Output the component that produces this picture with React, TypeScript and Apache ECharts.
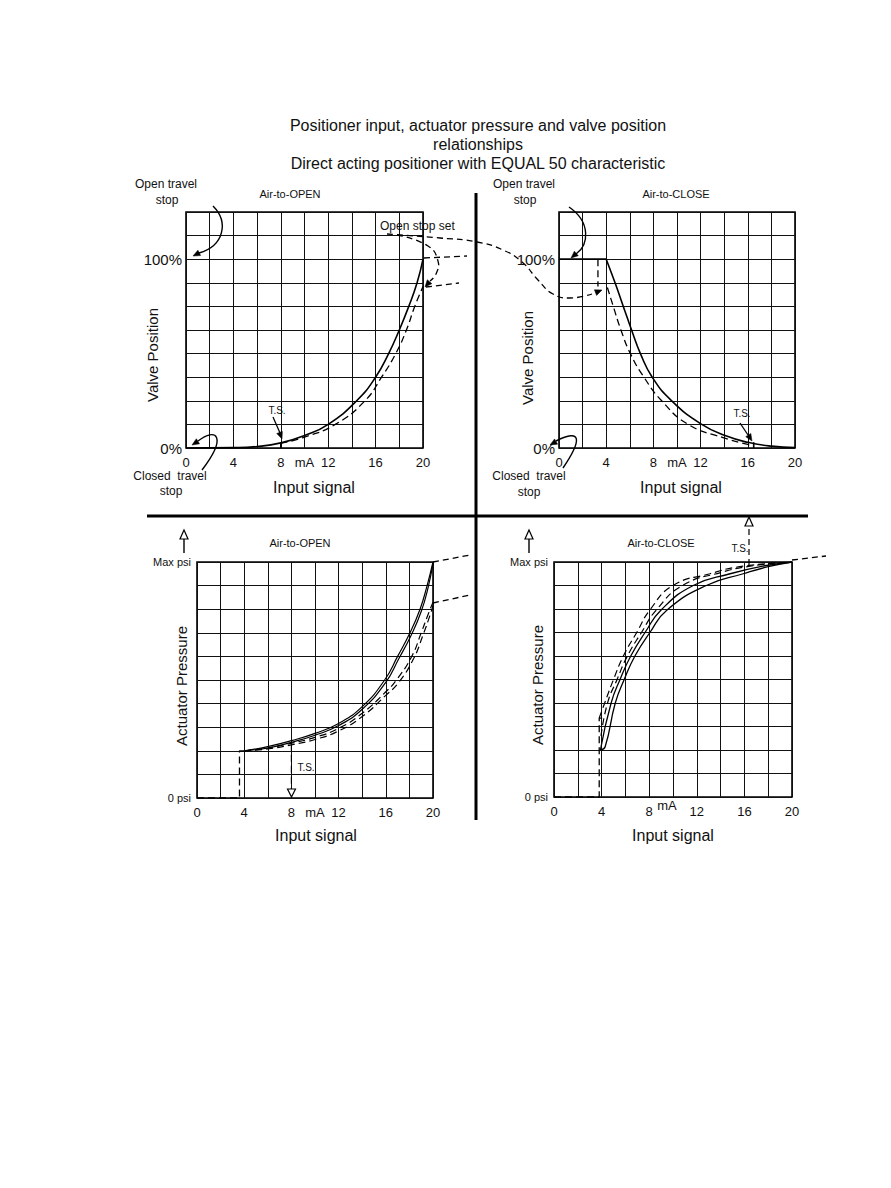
import React, { useEffect, useRef } from 'react';
import * as echarts from 'echarts';

const FONT = '"Liberation Sans", Arial, sans-serif';

// ---------- texts ----------
const titleLines = [
  'Positioner input, actuator pressure and valve position',
  'relationships',
  'Direct acting positioner with EQUAL 50 characteristic',
];
const panelTitles = ['Air-to-OPEN', 'Air-to-CLOSE', 'Air-to-OPEN', 'Air-to-CLOSE'];

// ---------- axes ----------
const mAValues = [0, 4, 8, 10, 12, 16, 20];
const mATexts = ['0', '4', '8', 'mA', '12', '16', '20'];
const positionLabelValues = [0, 100];
const positionLabelTexts = ['0%', '100%'];
const pressureLabelValues = [0, 100];
const pressureLabelTexts = ['0 psi', 'Max psi'];

// ---------- data: top-left, Air-to-OPEN, valve position (%) vs input (mA) ----------
const aoPosSolid = [[0, 0], [4, 0.2], [6, 0.8], [8, 2.7], [10, 6.6], [12, 12.5], [14.4, 25], [16, 37.5], [17.1, 50], [18, 62.5], [18.8, 75], [19.5, 87.5], [20, 100]];
const aoPosDashed = [[8, 2.4], [10, 5.8], [12.6, 12.5], [15.1, 25], [16.5, 37.5], [17.7, 50], [18.6, 62.5], [19.3, 75], [20, 85.5]];
const aoPosTravelStop = [[8, 0], [8, 2.6]];

// ---------- data: top-right, Air-to-CLOSE, valve position ----------
const acPosFlat = [[0, 100], [4, 100]];
const acPosSolid = [[4, 100], [4.75, 87.5], [5.45, 75], [6.15, 62.5], [6.9, 50], [7.9, 37.5], [9.55, 25], [12.1, 12.5], [14.2, 6.3], [16, 3], [18, 1], [20, 0.3]];
const acPosDashed = [[4.1, 85], [4.6, 75], [5.25, 62.5], [6.05, 50], [7.2, 37.5], [8.7, 25], [10.95, 12.5], [13.9, 5.5], [15.9, 2], [16.5, 1.2]];
const acPosOpenStop = [[3.3, 100], [3.3, 85.5]];
const acPosTravelStop = [[16.5, 0], [16.5, 3]];

// ---------- data: bottom-left, Air-to-OPEN, actuator pressure (% of max) ----------
const aoPressSolidA = [[4, 20], [6, 21.8], [8, 24.3], [10, 27.4], [12, 31.6], [14, 38.7], [15.9, 50], [17, 60], [18.05, 70], [18.9, 80], [19.5, 90], [20, 100]];
const aoPressSolidB = [[4, 20], [6, 21.2], [8, 23.6], [10, 26.6], [12, 30.7], [14, 37.6], [16, 49], [17.1, 59], [18.15, 69], [19, 79], [19.6, 89.5], [20, 99.5]];
const aoPressDashA = [[4, 20], [6, 21.2], [8, 23.2], [10, 25.7], [12, 29.5], [14, 35.9], [16, 45], [16.9, 50], [18.2, 60], [19, 70], [19.6, 78], [20, 83]];
const aoPressDashB = [[4, 20], [6, 20.8], [8, 22.5], [10, 24.8], [12, 28.4], [14, 34.5], [16, 43.5], [17.1, 49], [18.35, 59], [19.15, 69], [19.75, 77.5], [20, 81.5]];
const aoPressStep = [[0, 0], [3.6, 0], [3.6, 20], [4, 20]];
const aoPressTravelStop = [[8, 23], [8, 3.5]];

// ---------- data: bottom-right, Air-to-CLOSE, actuator pressure ----------
const acPressSolidL = [[3.9, 20], [4.8, 40], [5.55, 50], [6.45, 60], [7.65, 70], [9.0, 79.6], [11.7, 90], [14.8, 95], [17.6, 98.3], [20, 100]];
const acPressSolidR = [[3.9, 20], [4.3, 21.4], [5.15, 40], [5.9, 50], [6.8, 60], [8.06, 70], [9.5, 79.6], [12.8, 90], [15.9, 95], [18, 98], [20, 100]];
const acPressDashL = [[3.8, 33.6], [4.26, 40], [5.0, 50], [5.83, 60], [6.95, 70], [8.06, 79.6], [10, 90], [13.1, 95], [15.6, 98], [20, 100]];
const acPressDashR = [[3.95, 26], [4.5, 40], [5.3, 50], [6.17, 60], [7.35, 70], [8.6, 79.6], [10.8, 90], [14, 95.5], [16.6, 98.3], [20, 100]];
const acPressStep = [[0, 0], [3.8, 0], [3.8, 33.6], [4.05, 33.6]];

// ---------- layout ----------
const grids = [
  { left: 186, top: 212, width: 237, height: 236 },
  { left: 559, top: 212, width: 236, height: 236 },
  { left: 197, top: 562, width: 236, height: 236 },
  { left: 554, top: 562, width: 238, height: 235 },
];

const INK = '#111';

function mkX(i: number, hideMA: boolean) {
  return {
    type: 'value', gridIndex: i, min: 0, max: 20, interval: 2,
    axisLine: { show: false }, axisTick: { show: false },
    splitLine: { show: true, lineStyle: { color: INK, width: 1 } },
    axisLabel: {
      margin: 8, fontSize: 13, color: INK, fontFamily: FONT,
      formatter: (v: number) => {
        const k = mAValues.indexOf(v);
        if (k < 0) return '';
        if (hideMA && mATexts[k] === 'mA') return '';
        return mATexts[k];
      },
    },
  };
}

function mkY(i: number, pressure: boolean) {
  return {
    type: 'value', gridIndex: i, min: 0, max: pressure ? 100 : 125, interval: pressure ? 10 : 12.5,
    axisLine: { show: false }, axisTick: { show: false },
    splitLine: { show: true, lineStyle: { color: INK, width: 1 } },
    axisLabel: {
      margin: pressure ? 6 : 4, fontSize: pressure ? 11 : 15, color: INK, fontFamily: FONT,
      padding: pressure ? [0, 0, 0, 0] : [0, 0, 10, 0],
      formatter: (v: number) => {
        const vals = pressure ? pressureLabelValues : positionLabelValues;
        const txts = pressure ? pressureLabelTexts : positionLabelTexts;
        const k = vals.indexOf(v);
        return k < 0 ? '' : txts[k];
      },
    },
  };
}

function line(name: string, data: number[][], gi: number, dashed: boolean, smooth: boolean | number = 0.5, width?: number) {
  return {
    type: 'line', name, data, xAxisIndex: gi, yAxisIndex: gi,
    symbol: 'none', smooth,
    lineStyle: { color: '#000', width: width ?? (dashed ? 1.3 : 1.6), type: dashed ? [7, 4] : 'solid' },
    z: 5, silent: true,
  };
}

function head(tx: number, ty: number, fx: number, fy: number, len = 7, hw = 3, open = false) {
  const dx = tx - fx, dy = ty - fy, L = Math.hypot(dx, dy);
  const ux = dx / L, uy = dy / L;
  const bx = tx - ux * len, by = ty - uy * len;
  return {
    type: 'polygon', z: 20,
    shape: { points: [[tx, ty], [bx - uy * hw, by + ux * hw], [bx + uy * hw, by - ux * hw]] },
    style: open ? { fill: '#fff', stroke: '#000', lineWidth: 1.2 } : { fill: '#000', stroke: '#000', lineWidth: 0.5 },
  };
}

function txt(text: string, x: number, y: number, size: number, align = 'center', rotation = 0) {
  return {
    type: 'text', x, y, rotation, z: 20,
    style: { text, fill: INK, fontSize: size, fontFamily: FONT, align, verticalAlign: 'middle' },
  };
}

function seg(x1: number, y1: number, x2: number, y2: number, dashed = false, w = 1.3) {
  return {
    type: 'line', z: 20, shape: { x1, y1, x2, y2 },
    style: { stroke: '#000', lineWidth: w, lineDash: dashed ? [6, 4] : null },
  };
}

function curve(pts: number[][], dashed = true, w = 1.3) {
  return {
    type: 'polyline', z: 20, shape: { points: pts, smooth: 0.5 },
    style: { stroke: '#000', fill: null, lineWidth: w, lineDash: dashed ? [6, 4] : null },
  };
}

function bez(x1: number, y1: number, cpx1: number, cpy1: number, cpx2: number, cpy2: number, x2: number, y2: number) {
  return {
    type: 'bezierCurve', z: 20, shape: { x1, y1, cpx1, cpy1, cpx2, cpy2, x2, y2 },
    style: { stroke: '#000', fill: null, lineWidth: 1.4 },
  };
}

const graphics: any[] = [
  // title
  txt(titleLines[0], 478, 125, 16),
  txt(titleLines[1], 478, 144, 16),
  txt(titleLines[2], 478, 163, 16),
  // dividers
  seg(476, 193, 476, 820, false, 3),
  seg(147, 516, 808, 516, false, 3),
  // panel titles
  txt(panelTitles[0], 290, 194, 11),
  txt(panelTitles[1], 676, 194, 11),
  txt(panelTitles[2], 300, 543, 11),
  txt(panelTitles[3], 661, 543, 11),
  // axis titles
  txt('Valve Position', 152, 355, 15, 'center', Math.PI / 2),
  txt('Valve Position', 527, 358, 15, 'center', Math.PI / 2),
  txt('Actuator Pressure', 181, 686, 15, 'center', Math.PI / 2),
  txt('Actuator Pressure', 537, 685, 15, 'center', Math.PI / 2),
  txt('Input signal', 314, 487, 16),
  txt('Input signal', 681, 487, 16),
  txt('Input signal', 316, 835, 16),
  txt('Input signal', 673, 835, 16),
  txt('mA', 667, 805, 13),
  // travel stop notes
  txt('Open travel', 166, 184, 12), txt('stop', 167, 200, 12),
  txt('Closed  travel', 170, 476, 12), txt('stop', 171, 491, 12),
  txt('Open travel', 524, 184, 12), txt('stop', 525, 200, 12),
  txt('Closed  travel', 529, 476, 12), txt('stop', 529, 492, 12),
  txt('Open stop set', 380, 226, 12, 'left'),
  // curved arrows
  bez(213, 206, 229, 222, 224, 246, 199, 253), head(193, 256, 201, 252),
  bez(202, 470, 228, 436, 216, 427, 198, 441), head(192, 445, 200, 440),
  bez(569, 207, 591, 222, 589, 245, 576, 254), head(571, 258, 578, 252),
  bez(563, 468, 582, 440, 582, 428, 556, 441), head(550, 445, 557, 441),
  // open stop set dashed links
  curve([[387, 234], [440, 238], [477, 242], [503, 250], [522, 262], [538, 280], [553, 294], [570, 298], [592, 294]]),
  head(602, 290, 592, 294),
  curve([[397, 235], [428, 246], [438, 261], [436, 274], [430, 281]]),
  head(425, 287, 431, 280),
  seg(424, 258, 467, 256, true),
  seg(426, 287, 459, 283, true),
  seg(433, 562, 470, 555, true),
  seg(433, 603, 470, 595, true),
  seg(792, 560, 826, 556, true),
  // T.S. notes
  txt('T.S.', 277, 410, 10), seg(273, 417, 280, 433), head(282, 439, 279, 431),
  txt('T.S.', 742, 413, 10), seg(740, 423, 748, 435), head(752, 441, 747, 433),
  txt('T.S.', 306, 767, 10), head(291.5, 797, 291.5, 789, 8, 4, true),
  txt('T.S.', 740, 548, 10), seg(749, 565, 749, 526, true, 1.2), head(749, 517, 749, 526, 9, 4, true),
  // up arrows
  seg(184, 553, 184, 539, false, 1.4), head(184, 530, 184, 539, 9, 4, true),
  seg(529, 553, 529, 539, false, 1.4), head(529, 530, 529, 539, 9, 4, true),
];

const option: any = {
  animation: false,
  backgroundColor: '#fff',
  textStyle: { fontFamily: FONT },
  grid: grids.map((g) => ({ ...g, show: true, borderColor: '#000', borderWidth: 1.6, backgroundColor: 'transparent' })),
  xAxis: [mkX(0, false), mkX(1, false), mkX(2, false), mkX(3, true)],
  yAxis: [mkY(0, false), mkY(1, false), mkY(2, true), mkY(3, true)],
  series: [
    line('aoPosSolid', aoPosSolid, 0, false),
    line('aoPosDashed', aoPosDashed, 0, true),
    line('aoPosTravelStop', aoPosTravelStop, 0, false, false),
    line('acPosFlat', acPosFlat, 1, false, false, 1.8),
    line('acPosSolid', acPosSolid, 1, false),
    line('acPosDashed', acPosDashed, 1, true),
    line('acPosOpenStop', acPosOpenStop, 1, true, false),
    line('acPosTravelStop', acPosTravelStop, 1, false, false),
    line('aoPressSolidA', aoPressSolidA, 2, false, 0.5, 1.2),
    line('aoPressSolidB', aoPressSolidB, 2, false, 0.5, 1.2),
    line('aoPressDashA', aoPressDashA, 2, true, 0.5, 1.2),
    line('aoPressDashB', aoPressDashB, 2, true, 0.5, 1.2),
    line('aoPressStep', aoPressStep, 2, true, false),
    line('aoPressTravelStop', aoPressTravelStop, 2, true, false, 1.2),
    line('acPressSolidL', acPressSolidL, 3, false, 0.5, 1.3),
    line('acPressSolidR', acPressSolidR, 3, false, 0.5, 1.3),
    line('acPressDashL', acPressDashL, 3, true, 0.5, 1.2),
    line('acPressDashR', acPressDashR, 3, true, 0.5, 1.2),
    line('acPressStep', acPressStep, 3, true, false),
  ],
  graphic: graphics,
};

export default function App() {
  const ref = useRef<HTMLDivElement>(null);
  useEffect(() => {
    const chart = echarts.init(ref.current!, null, { renderer: 'svg' });
    chart.setOption(option);
    return () => chart.dispose();
  }, []);
  return (
    <div
      ref={ref}
      style={{ position: 'fixed', left: 0, top: 0, width: 891, height: 1188, background: '#fff' }}
    />
  );
}
